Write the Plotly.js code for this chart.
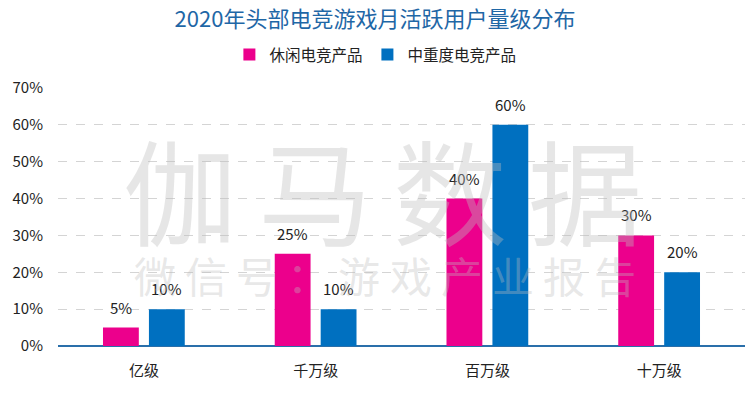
<!DOCTYPE html>
<html>
<head>
<meta charset="utf-8">
<script src="https://cdn.plot.ly/plotly-3.0.1.min.js"></script>
<style>html,body{margin:0;padding:0;background:#fff;}#chart{width:750px;height:394px;}</style>
</head>
<body>
<div id="chart"></div>
<script>
const categories = ['亿级', '千万级', '百万级', '十万级'];
const casualValues = [5, 25, 40, 30];
const midcoreValues = [10, 10, 60, 20];
const seriesNames = ['休闲电竞产品', '中重度电竞产品'];
const yTicks = [0, 10, 20, 30, 40, 50, 60, 70];
const yTickLabels = ['0%', '10%', '20%', '30%', '40%', '50%', '60%', '70%'];
const watermarkBig = ['伽', '马', '数', '据'];
const watermarkSmall = ['微', '信', '号', '：', '游', '戏', '产', '业', '报', '告'];

const font = '"Noto Sans CJK SC", "Microsoft YaHei", sans-serif';

const traces = [
  {
    type: 'bar', name: seriesNames[0], x: categories, y: casualValues,
    marker: {color: '#ec008c'}, hoverinfo: 'none'
  },
  {
    type: 'bar', name: seriesNames[1], x: categories, y: midcoreValues,
    marker: {color: '#0070c0'}, hoverinfo: 'none'
  }
];

const annotations = [];
// value labels above the bars
[[casualValues, -23], [midcoreValues, 23]].forEach(([vals, dx]) => {
  vals.forEach((v, i) => {
    annotations.push({xref: 'x', yref: 'y', x: categories[i], y: v, text: v + '%',
      showarrow: false, xshift: dx, yshift: 8, yanchor: 'bottom', xanchor: 'center',
      font: {size: 15, color: '#222', family: font}});
  });
});

const L = 58, R = 745, T = 88, B = 346;
const px = x => (x - L) / (R - L);
const py = y => (B - y) / (B - T);
watermarkBig.forEach((c, i) => {
  annotations.push({xref: 'paper', yref: 'paper', x: px(180 + i * 135), y: py(187),
    text: c, showarrow: false, font: {size: 114, color: 'rgba(190,190,190,0.38)', family: font},
    xanchor: 'center', yanchor: 'middle'});
});
watermarkSmall.forEach((c, i) => {
  annotations.push({xref: 'paper', yref: 'paper', x: px(155 + i * 51.1), y: py(274),
    text: c, showarrow: false, font: {size: 42, color: 'rgba(190,190,190,0.36)', family: font},
    xanchor: 'center', yanchor: 'middle'});
});

const layout = {
  width: 750, height: 394,
  margin: {l: L, r: 750 - R, t: T, b: 394 - B},
  paper_bgcolor: '#fff', plot_bgcolor: '#fff',
  font: {family: font, size: 15, color: '#222'},
  title: {text: '2020年头部电竞游戏月活跃用户量级分布', x: 0.5, xanchor: 'center',
    y: 0.952, yanchor: 'middle', yref: 'container',
    font: {size: 22, color: '#1f67a6', family: font}},
  showlegend: true,
  legend: {orientation: 'h', x: 0.462, xanchor: 'center', y: 1.128, yanchor: 'middle',
    font: {size: 15.5, color: '#222', family: font}, itemwidth: 30, tracegroupgap: 0},
  barmode: 'group', bargap: 0.465, bargroupgap: 0.22,
  xaxis: {type: 'category', showgrid: false, showline: false, ticks: '',
    ticklabelstandoff: 14,
    tickfont: {size: 15, color: '#222', family: font}, fixedrange: true},
  yaxis: {range: [0, 70], tickvals: yTicks, ticktext: yTickLabels,
    showgrid: true, gridcolor: '#d4d4d4', griddash: 'dash', gridwidth: 1,
    zeroline: true, zerolinecolor: '#2a6faa', zerolinewidth: 1.5,
    showline: false, ticks: '', ticklabelstandoff: 14,
    tickfont: {size: 15, color: '#222', family: font}, fixedrange: true},
  annotations: annotations
};

Plotly.newPlot('chart', traces, layout, {displayModeBar: false, staticPlot: true});
</script>
</body>
</html>
